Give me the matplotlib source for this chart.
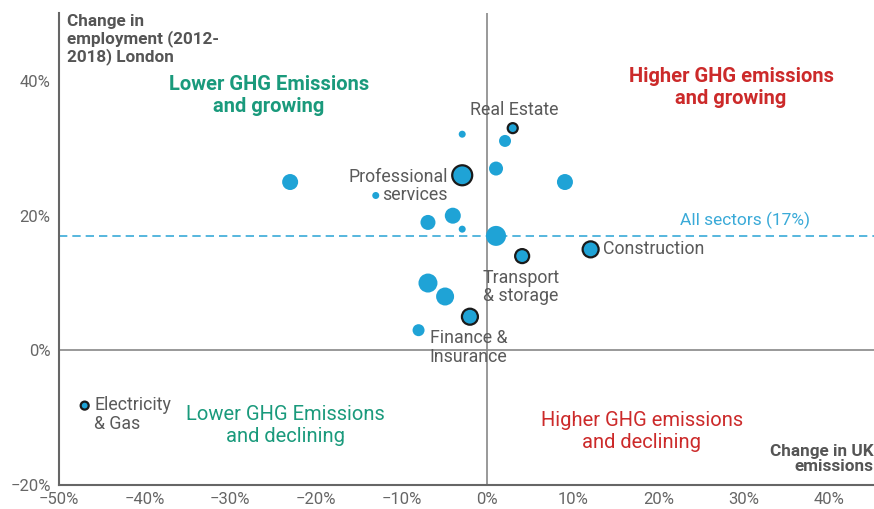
import matplotlib
matplotlib.use("Agg")
import matplotlib.pyplot as plt
from matplotlib.ticker import FuncFormatter
import numpy as np

plt.rcParams['font.family'] = ['Roboto', 'DejaVu Sans']

# Data (change in UK emissions %, change in London employment %, relative sector size)
emis_change = [3.0, -2.9, 2.1, -2.9, 1.05, 9.1, -23.0, -13.0, -4.0, -6.9, -2.9, 1.05,
               4.1, 12.1, -6.9, -4.9, -2.0, -8.0, -47.0]
empl_change = [33.0, 32.1, 31.1, 26.0, 27.0, 25.0, 25.0, 23.0, 20.0, 19.0, 18.0, 17.0,
               14.0, 15.0, 10.0, 8.0, 5.0, 3.0, -8.2]
sector_size = [5, 3.5, 6, 10, 7, 8, 8, 3.5, 8, 7.5, 3.5, 10, 7, 8, 9.5, 9, 8, 6, 4]
highlighted = [True, False, False, True, False, False, False, False, False, False, False, False,
               True, True, False, False, True, False, True]
all_sectors = 17

labels = [
    ("Real Estate", 3.2, 35.7, "center", "left"),
    ("Professional\nservices", -4.6, 24.4, "right", "right"),
    ("Construction", 13.5, 15.0, "left", "left"),
    ("Transport\n& storage", -0.5, 9.4, "left", "left"),
    ("Finance &\nInsurance", -6.7, 0.4, "left", "left"),
    ("Electricity\n& Gas", -45.9, -9.5, "left", "left"),
]

fig = plt.figure(figsize=(8.74, 5.09), dpi=100)
ax = fig.add_axes([0.0675, 0.047, 0.9325, 0.9275])
ax.set_xlim(-50, 45.2)
ax.set_ylim(-20, 50.1)

fill = '#1fa3d6'
sizes = [(2 * r / 1.389) ** 2 for r in sector_size]
edges = ['#1a1a1a' if h else fill for h in highlighted]
lws = [1.6 if h else 0 for h in highlighted]
ax.scatter(emis_change, empl_change, s=sizes, c=fill, edgecolors=edges, linewidths=lws, zorder=3)

ax.axvline(0, color='#888888', lw=1.2, zorder=1)
ax.axhline(0, color='#888888', lw=1.2, zorder=1)
ax.axhline(all_sectors, color='#3aaad8', lw=1.2, ls=(0, (5, 3)), zorder=2)
ax.text(37.7, all_sectors + 2.3, "All sectors (17%)", color='#3aaad8', fontsize=12.5,
        ha='right', va='center')

for s in ['top', 'right']:
    ax.spines[s].set_visible(False)
for s in ['left', 'bottom']:
    ax.spines[s].set_color('#666666')
    ax.spines[s].set_linewidth(1.5)

ax.set_xticks(np.arange(-50, 41, 10))
ax.set_yticks([-20, 0, 20, 40])
fmt = FuncFormatter(lambda v, p: f"{int(round(v))}%".replace('-', '\u2212'))
ax.xaxis.set_major_formatter(fmt)
ax.yaxis.set_major_formatter(fmt)
ax.tick_params(length=0, labelsize=12, labelcolor='#666666')
ax.tick_params(axis='y', pad=6)
ax.tick_params(axis='x', pad=5)

for txt, x, y, ha, ma in labels:
    ax.text(x, y, txt, fontsize=12.8, color='#5a5a5a', ha=ha, va='center',
            multialignment=ma, linespacing=1.05, zorder=4)

green = '#1a9a7c'
red = '#cc2a2a'
ax.text(-25.5, 37.9, "Lower GHG Emissions\nand growing", color=green, fontsize=14.5,
        fontweight='bold', ha='center', va='center', linespacing=1.2)
ax.text(28.5, 39.1, "Higher GHG emissions\nand growing", color=red, fontsize=14.5,
        fontweight='bold', ha='center', va='center', linespacing=1.2)
ax.text(-23.6, -11.2, "Lower GHG Emissions\nand declining", color=green, fontsize=14.5,
        ha='center', va='center', linespacing=1.2)
ax.text(18.1, -12.0, "Higher GHG emissions\nand declining", color=red, fontsize=14.5,
        ha='center', va='center', linespacing=1.2)

ax.text(-49.1, 50.0, "Change in\nemployment (2012-\n2018) London", color='#555555',
        fontsize=12.3, fontweight='bold', ha='left', va='top', linespacing=1.1)
ax.text(45.1, -13.9, "Change in UK\nemissions", color='#555555', fontsize=12.3,
        fontweight='bold', ha='right', va='top', multialignment='right', linespacing=1.0)

fig.savefig("out.png", dpi=100)
